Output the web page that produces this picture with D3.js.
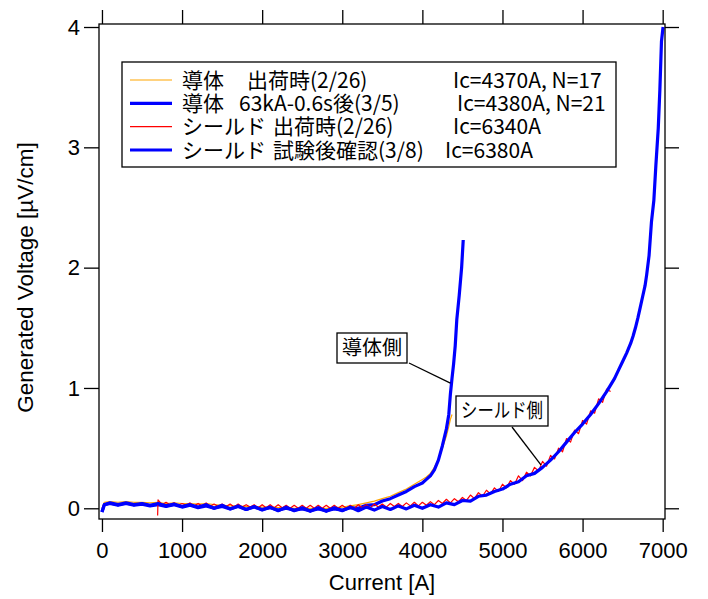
<!DOCTYPE html>
<html><head><meta charset="utf-8">
<script src="https://cdn.jsdelivr.net/npm/d3@7"></script>
<style>body{margin:0;background:#fff}svg{display:block}</style>
</head><body><svg id="c" width="708" height="599"></svg>
<script>
// ---------- data ----------
const xTicks = [0,1000,2000,3000,4000,5000,6000,7000];
const yTicks = [0,1,2,3,4];
const xTitle = "Current [A]";
const yTitle = "Generated Voltage [\u00b5V/cm]";

const legendNames = ["導体","導体","シールド","シールド"];
const legendConds = ["出荷時(2/26)","63kA-0.6s後(3/5)","出荷時(2/26)","試験後確認(3/8)"];
const legendIc = ["Ic=4370A, N=17","Ic=4380A, N=21","Ic=6340A","Ic=6380A"];
const seriesColors = ["#ffa500","#0000ff","#ff0000","#0000ff"];

const annotTexts = ["導体側","シールド側"];
const annotAnchorI = [4350, 5480];
const annotAnchorV = [1.04, 0.36];

// 導体 63kA-0.6s後(3/5)  (blue)
const condI = [0,30,100,200,300,400,500,600,700,800,900,1000,1100,1200,1300,1400,1500,1600,1700,1800,1900,2000,2100,2200,2300,2400,2500,2600,2700,2800,2900,3000,3100,3200,3300,3400,3500,3600,3700,3800,3900,4000,4050,4100,4150,4200,4250,4300,4330,4350,4370,4390,4410,4430,4460,4490,4510];
const condV = [-0.03,0.03,0.04,0.025,0.04,0.025,0.035,0.02,0.03,0.015,0.03,0.01,0.025,0.005,0.02,0.0,0.015,-0.005,0.015,-0.01,0.01,-0.01,0.005,-0.015,0.0,-0.015,-0.005,-0.02,-0.005,-0.02,-0.005,-0.015,0.005,0.0,0.025,0.03,0.06,0.08,0.11,0.14,0.18,0.21,0.24,0.27,0.32,0.40,0.52,0.66,0.78,0.95,1.08,1.2,1.35,1.57,1.77,2.0,2.23];

// 導体 出荷時(2/26)  (orange)
const orangeI = [0,30,100,200,300,400,500,600,700,800,900,1000,1100,1200,1300,1400,1500,1600,1700,1800,1900,2000,2100,2200,2300,2400,2500,2600,2700,2800,2900,3000,3100,3200,3300,3400,3500,3600,3700,3800,3900,4000,4050,4100,4150,4200,4250,4300,4330,4350,4370];
const orangeV = [0.0,0.05,0.055,0.05,0.055,0.05,0.05,0.045,0.05,0.04,0.045,0.04,0.04,0.035,0.04,0.03,0.025,0.02,0.02,0.015,0.015,0.01,0.01,0.005,0.005,0.0,0.0,0.0,-0.005,0.0,0.005,0.01,0.02,0.03,0.045,0.06,0.08,0.1,0.13,0.16,0.2,0.24,0.26,0.29,0.34,0.41,0.5,0.6,0.68,0.74,0.78];

// シールド 出荷時(2/26)  (red)
const redI = [695,700,750,800,850,900,950,1000,1050,1100,1150,1200,1250,1300,1350,1400,1450,1500,1550,1600,1650,1700,1750,1800,1850,1900,1950,2000,2050,2100,2150,2200,2250,2300,2350,2400,2450,2500,2550,2600,2650,2700,2750,2800,2850,2900,2950,3000,3050,3100,3150,3200,3250,3300,3350,3400,3450,3500,3550,3600,3650,3700,3750,3800,3850,3900,3950,4000,4050,4100,4150,4200,4250,4300,4350,4400,4450,4500,4550,4600,4650,4700,4750,4800,4850,4900,4950,5000,5050,5100,5150,5200,5250,5300,5350,5400,5450,5500,5550,5600,5650,5700,5750,5800,5850,5900,5950,6000,6050,6100,6150,6200,6250,6300,6350];
const redV = [-0.06,0.07,0.03,0.05,0.03,0.045,0.025,0.04,0.025,0.045,0.02,0.04,0.02,0.045,0.015,0.035,0.015,0.035,0.015,0.035,0.01,0.035,0.01,0.03,0.01,0.03,0.005,0.03,0.005,0.03,0.005,0.03,0.005,0.025,0.0,0.025,0.0,0.025,0.0,0.025,0.0,0.025,0.0,0.025,0.0,0.025,0.0,0.025,0.0,0.025,0.0,0.03,0.005,0.03,0.005,0.035,0.01,0.035,0.01,0.04,0.015,0.04,0.015,0.045,0.02,0.05,0.02,0.05,0.025,0.055,0.03,0.065,0.04,0.075,0.045,0.08,0.055,0.09,0.065,0.11,0.08,0.13,0.1,0.15,0.12,0.17,0.14,0.2,0.17,0.23,0.2,0.27,0.23,0.3,0.27,0.34,0.31,0.39,0.35,0.44,0.41,0.5,0.47,0.58,0.55,0.65,0.62,0.73,0.7,0.81,0.79,0.91,0.88,0.99,0.97];

// シールド 試験後確認(3/8)  (blue)
const shieldI = [0,30,100,200,300,400,500,600,700,800,900,1000,1100,1200,1300,1400,1500,1600,1700,1800,1900,2000,2100,2200,2300,2400,2500,2600,2700,2800,2900,3000,3100,3200,3300,3400,3500,3600,3700,3800,3900,4000,4100,4200,4300,4400,4500,4600,4700,4800,4900,5000,5100,5200,5300,5400,5500,5600,5700,5800,5900,6000,6100,6200,6300,6400,6450,6500,6550,6600,6630,6660,6690,6720,6750,6780,6800,6830,6860,6890,6915,6945,6965,6985,7005];
const shieldV = [-0.03,0.03,0.045,0.03,0.045,0.03,0.04,0.025,0.04,0.02,0.035,0.015,0.03,0.01,0.03,0.0,0.025,-0.005,0.02,-0.01,0.015,-0.015,0.01,-0.02,0.01,-0.02,0.005,-0.025,0.005,-0.025,0.005,-0.02,0.01,-0.02,0.01,-0.015,0.015,-0.01,0.02,-0.005,0.025,0.0,0.03,0.01,0.045,0.03,0.065,0.06,0.1,0.11,0.14,0.16,0.2,0.22,0.27,0.29,0.34,0.4,0.47,0.55,0.63,0.70,0.78,0.87,0.97,1.08,1.15,1.22,1.29,1.37,1.43,1.5,1.58,1.67,1.76,1.85,1.94,2.1,2.38,2.56,2.85,3.16,3.48,3.88,4.0];

// ---------- drawing ----------
const svg = d3.select("#c");
const L = 99, R = 665, T = 24, B = 519;
const x = d3.scaleLinear().domain([-37, 7029]).range([L, R]);
const y = d3.scaleLinear().domain([-0.089, 4.025]).range([B, T]);

const FONT = "'Liberation Sans', Arial, sans-serif";
const JFONT = "'Noto Sans CJK JP', 'Liberation Sans', sans-serif";

svg.append("defs").append("clipPath").attr("id","clip")
  .append("rect").attr("x",L).attr("y",T-6).attr("width",R-L).attr("height",B-T+6);

const plot = svg.append("g").attr("clip-path","url(#clip)");
const series = [
  {I: orangeI, V: orangeV, color: seriesColors[0], w: 1.2},
  {I: condI, V: condV, color: seriesColors[1], w: 3.2},
  {I: redI, V: redV, color: seriesColors[2], w: 1.2},
  {I: shieldI, V: shieldV, color: seriesColors[3], w: 3.2}
];
series.forEach(s => {
  const pts = d3.zip(s.I, s.V);
  plot.append("path").datum(pts)
    .attr("fill","none").attr("stroke", s.color).attr("stroke-width", s.w)
    .attr("stroke-linejoin","round")
    .attr("d", d3.line().x(d=>x(d[0])).y(d=>y(d[1])));
});

// frame
svg.append("rect").attr("x",L).attr("y",T).attr("width",R-L).attr("height",B-T)
  .attr("fill","none").attr("stroke","#000").attr("stroke-width",1.3);

function styleAxis(g){
  g.select(".domain").remove();
  g.selectAll(".tick line").attr("stroke","#000").attr("stroke-width",1.3);
  g.selectAll(".tick text").attr("fill","#000").style("font-family",FONT).style("font-size","22px");
}
svg.append("g").attr("transform",`translate(${L},0)`)
  .call(d3.axisLeft(y).tickValues(yTicks).tickFormat(d3.format("d")).tickSize(15).tickPadding(4)).call(styleAxis);
svg.append("g").attr("transform",`translate(${R},0)`)
  .call(d3.axisRight(y).tickValues(yTicks).tickFormat("").tickSize(14)).call(styleAxis);
svg.append("g").attr("transform",`translate(0,${B})`)
  .call(d3.axisBottom(x).tickValues(xTicks).tickFormat(d3.format("d")).tickSize(13).tickPadding(10)).call(styleAxis);
svg.append("g").attr("transform",`translate(0,${T})`)
  .call(d3.axisTop(x).tickValues(xTicks).tickFormat("").tickSize(14)).call(styleAxis);

// axis titles
svg.append("text").attr("x",(L+R)/2).attr("y",590).attr("text-anchor","middle")
  .style("font-family",FONT).style("font-size","22px").text(xTitle);
svg.append("text").attr("transform",`translate(33,${(T+B)/2 + 6}) rotate(-90)`).attr("text-anchor","middle")
  .style("font-family",FONT).style("font-size","22.5px").text(yTitle);

// legend
const lg = svg.append("g");
lg.append("rect").attr("x",122).attr("y",62).attr("width",494).attr("height",105)
  .attr("fill","#fff").attr("stroke","#000").attr("stroke-width",1.3);
const rowY = [80, 103.3, 126.6, 150];
const condX = [247, 239, 273, 273];
const icX = [453, 457, 453, 445];
const lw = [1.2, 3.2, 1.2, 3.2];
legendNames.forEach((n,i)=>{
  lg.append("line").attr("x1",130).attr("x2",172).attr("y1",rowY[i]).attr("y2",rowY[i])
    .attr("stroke",seriesColors[i]).attr("stroke-width",lw[i]);
  const t = (tx, xx) => lg.append("text").attr("x",xx).attr("y",rowY[i]).attr("dy","0.36em")
    .style("font-family",JFONT).style("font-size","21px").text(tx);
  t(n,182); t(legendConds[i], condX[i]); t(legendIc[i], icX[i]);
});

// annotations
const boxCenters = [[372,348],[502,411]];
const boxTextLen = [null, 82];
const lineStart = [[409,363],[512,427]];
annotTexts.forEach((txt,i)=>{
  const g = svg.append("g");
  g.append("line").attr("x1",lineStart[i][0]).attr("y1",lineStart[i][1])
    .attr("x2",x(annotAnchorI[i])).attr("y2",y(annotAnchorV[i]))
    .attr("stroke","#000").attr("stroke-width",1.3);
  const rect = g.append("rect").attr("fill","#fff").attr("stroke","#000").attr("stroke-width",1.3);
  const tx = g.append("text").attr("x",boxCenters[i][0]).attr("y",boxCenters[i][1]).attr("dy","0.36em")
    .attr("text-anchor","middle").style("font-family",JFONT).style("font-size","20px").text(txt);
  if (boxTextLen[i]) tx.attr("textLength",boxTextLen[i]).attr("lengthAdjust","spacingAndGlyphs");
  const bb = tx.node().getBBox();
  rect.attr("x",bb.x-5).attr("y",boxCenters[i][1]-15).attr("width",bb.width+10).attr("height",30);
});
</script></body></html>
